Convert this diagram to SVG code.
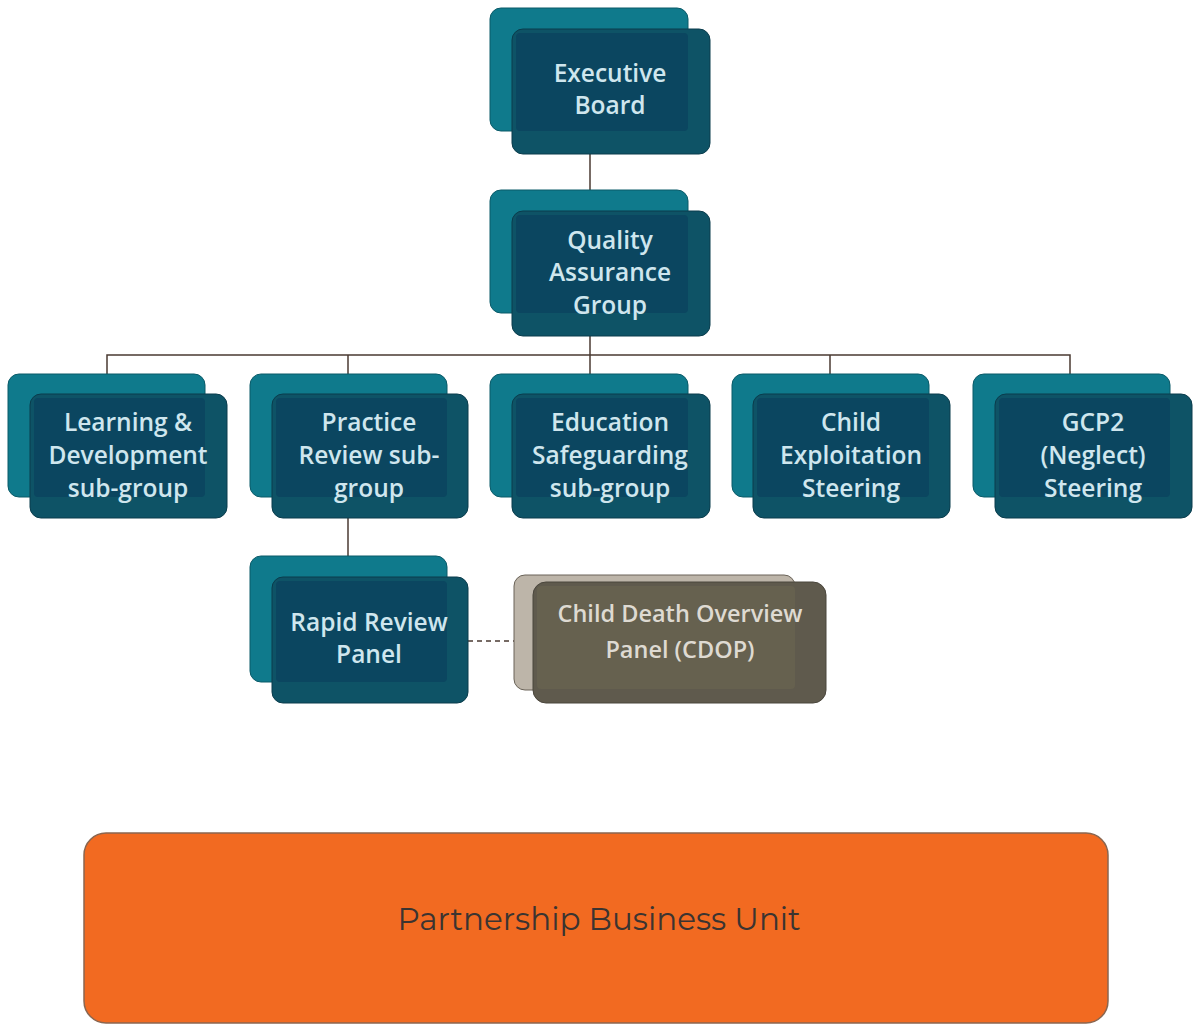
<svg xmlns="http://www.w3.org/2000/svg" width="1195" height="1028" viewBox="0 0 1195 1028">
  <style>
    .back { fill: #0f7a8c; stroke: #0a5a68; stroke-width: 1; }
    .front { fill: #0e5366; stroke: #0a3c4c; stroke-width: 1; }
    .inner { fill: #0b4660; }
    .lbl { font-family: "Open Sans", "Liberation Sans", sans-serif; font-size: 24.5px; font-weight: 600; fill: #cfe6ee; text-anchor: middle; }
    .grey-back { fill: #bdb5a9; stroke: #6a6358; stroke-width: 1; }
    .grey-front { fill: #5f5a4d; stroke: #4a463c; stroke-width: 1; }
    .grey-inner { fill: #66614f; }
    .grey-lbl { font-family: "Open Sans", "Liberation Sans", sans-serif; font-size: 23.5px; font-weight: 600; fill: #dedad2; text-anchor: middle; }
    .wire { stroke: #4a3a32; stroke-width: 1.5; fill: none; }
    .dash { stroke: #4a3a32; stroke-width: 1.5; fill: none; stroke-dasharray: 5 4; }
  </style>
  <rect width="1195" height="1028" fill="#ffffff"/>

  <!-- connectors -->
  <g id="connectors">
    <path class="wire" d="M590 154 V190"/>
    <path class="wire" d="M590 336 V355"/>
    <path class="wire" d="M107 374 V355 H1070 V374"/>
    <path class="wire" d="M348 355 V374"/>
    <path class="wire" d="M590 355 V374"/>
    <path class="wire" d="M830 355 V374"/>
    <path class="wire" d="M348 518 V556"/>
    <path class="dash" d="M468 641 H533"/>
  </g>

  <g id="executive-board">
    <rect class="back" x="490" y="8" width="198" height="123" rx="11"/>
    <rect class="front" x="512" y="29" width="198" height="125" rx="11"/>
    <rect class="inner" x="516" y="33" width="172" height="98" rx="4"/>
    <text class="lbl" x="610" y="82">Executive</text>
    <text class="lbl" x="610" y="114">Board</text>
  </g>

  <g id="quality-assurance-group">
    <rect class="back" x="490" y="190" width="198" height="123" rx="11"/>
    <rect class="front" x="512" y="211" width="198" height="125" rx="11"/>
    <rect class="inner" x="516" y="215" width="172" height="98" rx="4"/>
    <text class="lbl" x="610" y="249">Quality</text>
    <text class="lbl" x="610" y="281">Assurance</text>
    <text class="lbl" x="610" y="314">Group</text>
  </g>

  <g id="learning-development">
    <rect class="back" x="8" y="374" width="197" height="123" rx="11"/>
    <rect class="front" x="30" y="394" width="197" height="124" rx="11"/>
    <rect class="inner" x="34" y="398" width="171" height="99" rx="4"/>
    <text class="lbl" x="128" y="431">Learning &amp;</text>
    <text class="lbl" x="128" y="464">Development</text>
    <text class="lbl" x="128" y="497">sub-group</text>
  </g>

  <g id="practice-review">
    <rect class="back" x="250" y="374" width="197" height="123" rx="11"/>
    <rect class="front" x="272" y="394" width="196" height="124" rx="11"/>
    <rect class="inner" x="276" y="398" width="171" height="99" rx="4"/>
    <text class="lbl" x="369" y="431">Practice</text>
    <text class="lbl" x="369" y="464">Review sub-</text>
    <text class="lbl" x="369" y="497">group</text>
  </g>

  <g id="education-safeguarding">
    <rect class="back" x="490" y="374" width="198" height="123" rx="11"/>
    <rect class="front" x="512" y="394" width="198" height="124" rx="11"/>
    <rect class="inner" x="516" y="398" width="172" height="99" rx="4"/>
    <text class="lbl" x="610" y="431">Education</text>
    <text class="lbl" x="610" y="464">Safeguarding</text>
    <text class="lbl" x="610" y="497">sub-group</text>
  </g>

  <g id="child-exploitation">
    <rect class="back" x="732" y="374" width="197" height="123" rx="11"/>
    <rect class="front" x="753" y="394" width="197" height="124" rx="11"/>
    <rect class="inner" x="757" y="398" width="172" height="99" rx="4"/>
    <text class="lbl" x="851" y="431">Child</text>
    <text class="lbl" x="851" y="464">Exploitation</text>
    <text class="lbl" x="851" y="497">Steering</text>
  </g>

  <g id="gcp2-neglect">
    <rect class="back" x="973" y="374" width="197" height="123" rx="11"/>
    <rect class="front" x="995" y="394" width="197" height="124" rx="11"/>
    <rect class="inner" x="999" y="398" width="171" height="99" rx="4"/>
    <text class="lbl" x="1093" y="431">GCP2</text>
    <text class="lbl" x="1093" y="464">(Neglect)</text>
    <text class="lbl" x="1093" y="497">Steering</text>
  </g>

  <g id="rapid-review-panel">
    <rect class="back" x="250" y="556" width="197" height="126" rx="11"/>
    <rect class="front" x="272" y="577" width="196" height="126" rx="11"/>
    <rect class="inner" x="276" y="581" width="171" height="101" rx="4"/>
    <text class="lbl" x="369" y="631">Rapid Review</text>
    <text class="lbl" x="369" y="663">Panel</text>
  </g>

  <g id="cdop">
    <rect class="grey-back" x="514" y="575" width="281" height="115" rx="11"/>
    <rect class="grey-front" x="533" y="582" width="293" height="121" rx="13"/>
    <rect class="grey-inner" x="537" y="586" width="258" height="103" rx="4"/>
    <text class="grey-lbl" x="680" y="622">Child Death Overview</text>
    <text class="grey-lbl" x="680" y="658">Panel (CDOP)</text>
  </g>

  <g id="partnership-business-unit">
    <rect x="84" y="833" width="1024" height="190" rx="22" fill="#f26a21" stroke="#8a6650" stroke-width="1.5"/>
    <text x="599" y="930" font-family="Montserrat, 'Open Sans', 'Liberation Sans', sans-serif" font-size="31" fill="#3b3431" text-anchor="middle">Partnership Business Unit</text>
  </g>
</svg>
